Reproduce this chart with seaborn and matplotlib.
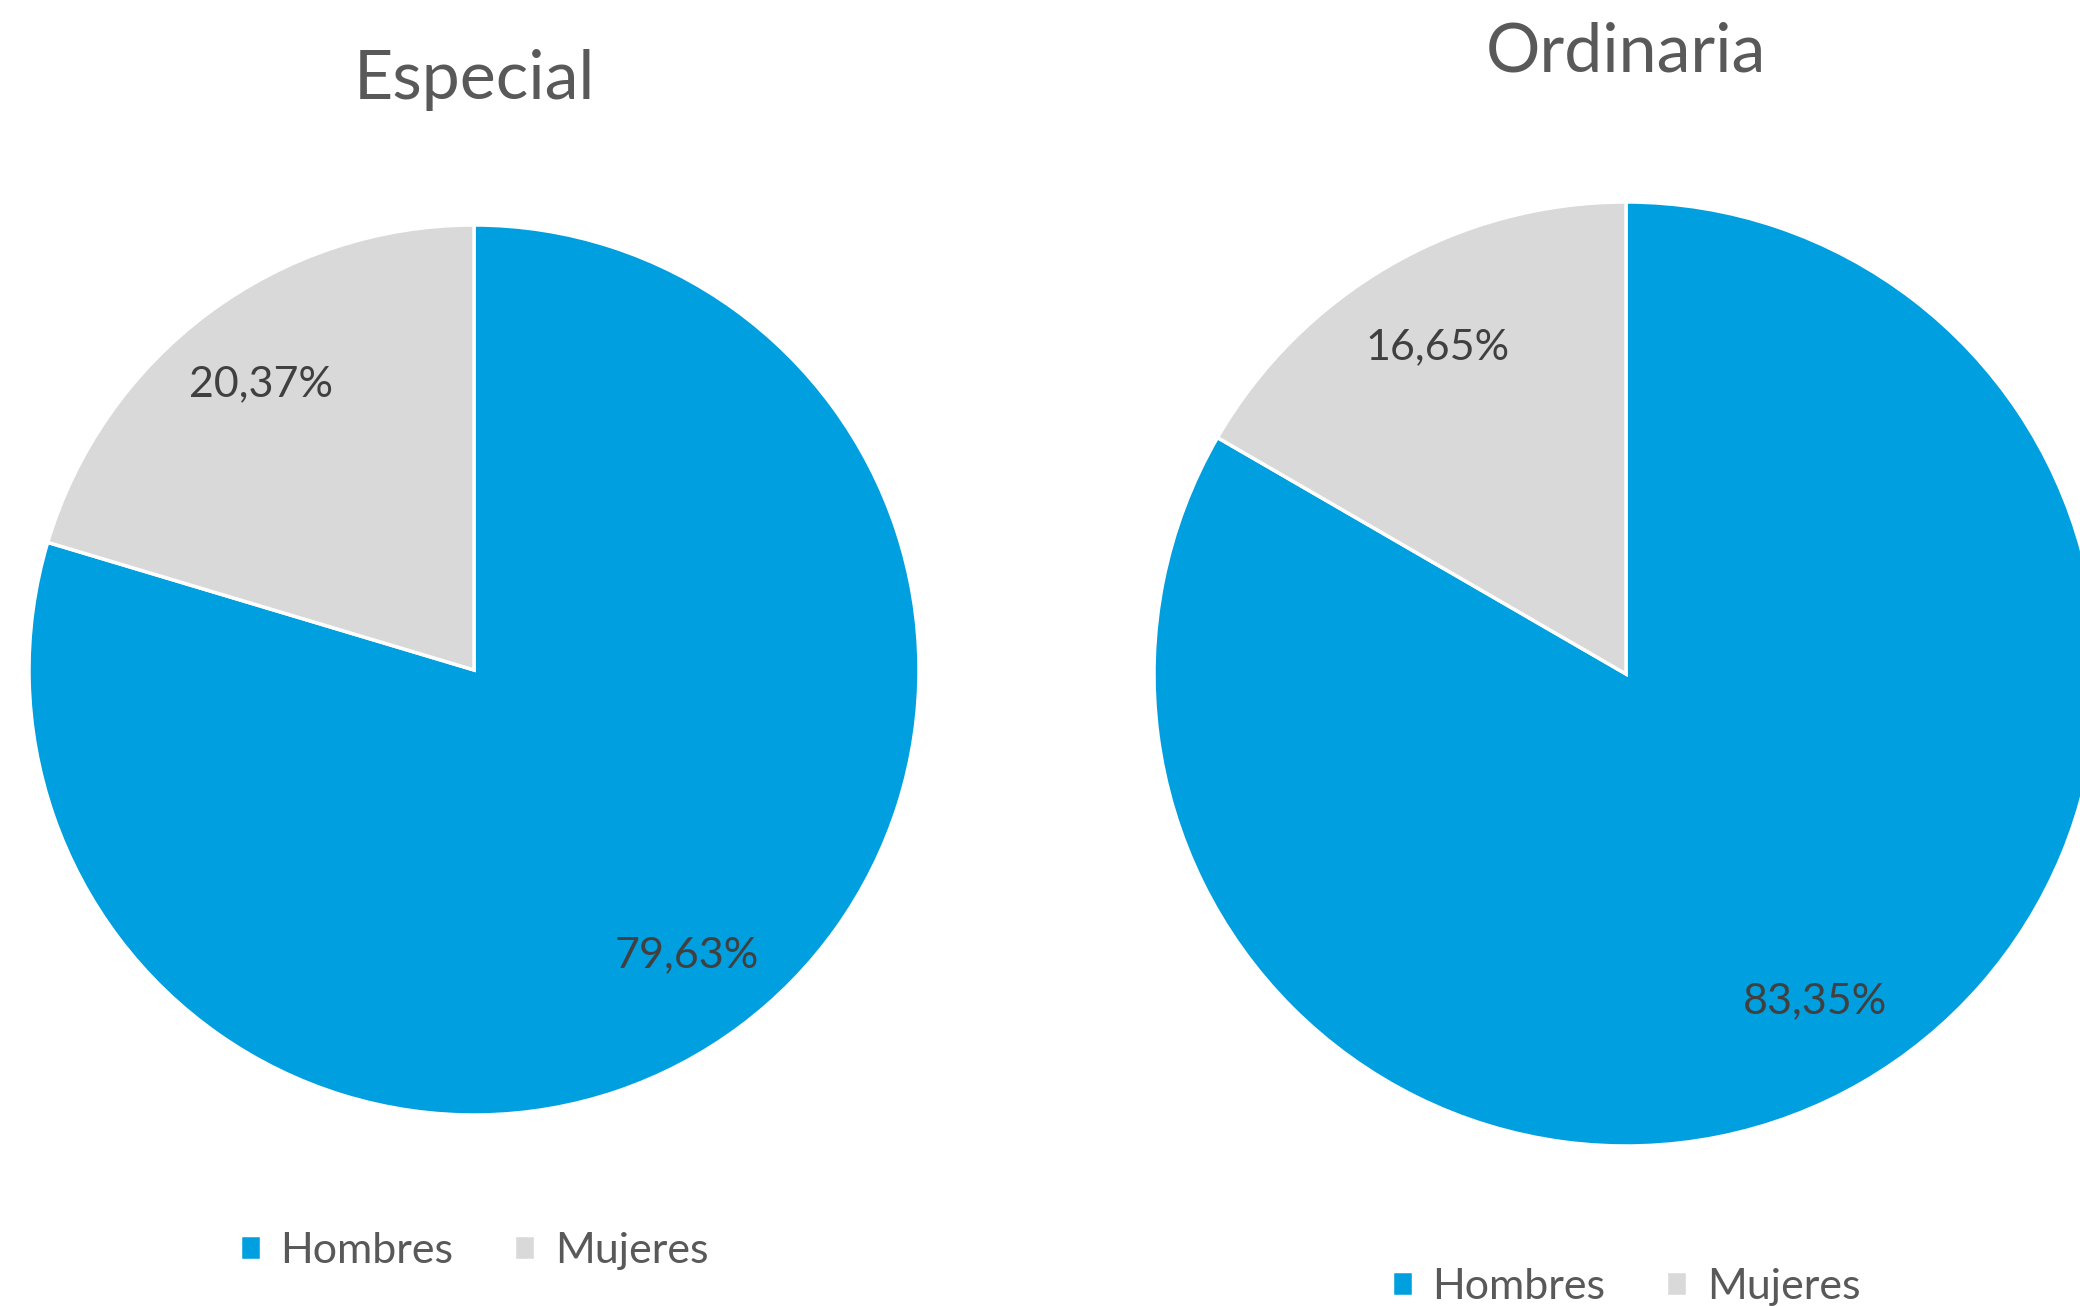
import matplotlib
matplotlib.use("Agg")
import matplotlib.pyplot as plt
import seaborn as sns

sns.set_theme(style="white")
plt.rcParams['font.family'] = ['Lato', 'DejaVu Sans']

categories = ["Hombres", "Mujeres"]
titles = ["Especial", "Ordinaria"]
especial_values = [79.63, 20.37]
ordinaria_values = [83.35, 16.65]
colors = ["#009FDF", "#D9D9D9"]

W, H = 2080, 1306
fig = plt.figure(figsize=(W / 100, H / 100), dpi=100)
fig.patch.set_facecolor("white")


def fmt(p):
    return f"{p:.2f}%".replace(".", ",")


def add_pie(cx, cy, r, values, title, title_y, legend_y):
    ax = fig.add_axes([(cx - r) / W, (H - cy - r) / H, 2 * r / W, 2 * r / H])
    wedges, texts, autotexts = ax.pie(
        values, colors=colors, startangle=90, counterclock=False,
        autopct=fmt, pctdistance=0.8,
        wedgeprops=dict(edgecolor="white", linewidth=2.5),
        textprops=dict(color="#404040", fontsize=31),
    )
    ax.set_xlim(-1, 1)
    ax.set_ylim(-1, 1)
    ax.axis("off")
    fig.text(cx / W, 1 - title_y / H, title, ha="center", va="center",
             fontsize=49, color="#595959")
    fig.legend(wedges, categories, loc="center", bbox_to_anchor=(cx / W, 1 - legend_y / H),
               ncol=2, frameon=False, fontsize=31, labelcolor="#595959",
               handlelength=0.5, handleheight=0.5, handletextpad=0.45,
               columnspacing=1.4)


add_pie(474, 670, 445, especial_values, titles[0], 80, 1251)
add_pie(1626, 674, 472, ordinaria_values, titles[1], 53, 1287)

fig.savefig("out.png", dpi=100, facecolor="white")
